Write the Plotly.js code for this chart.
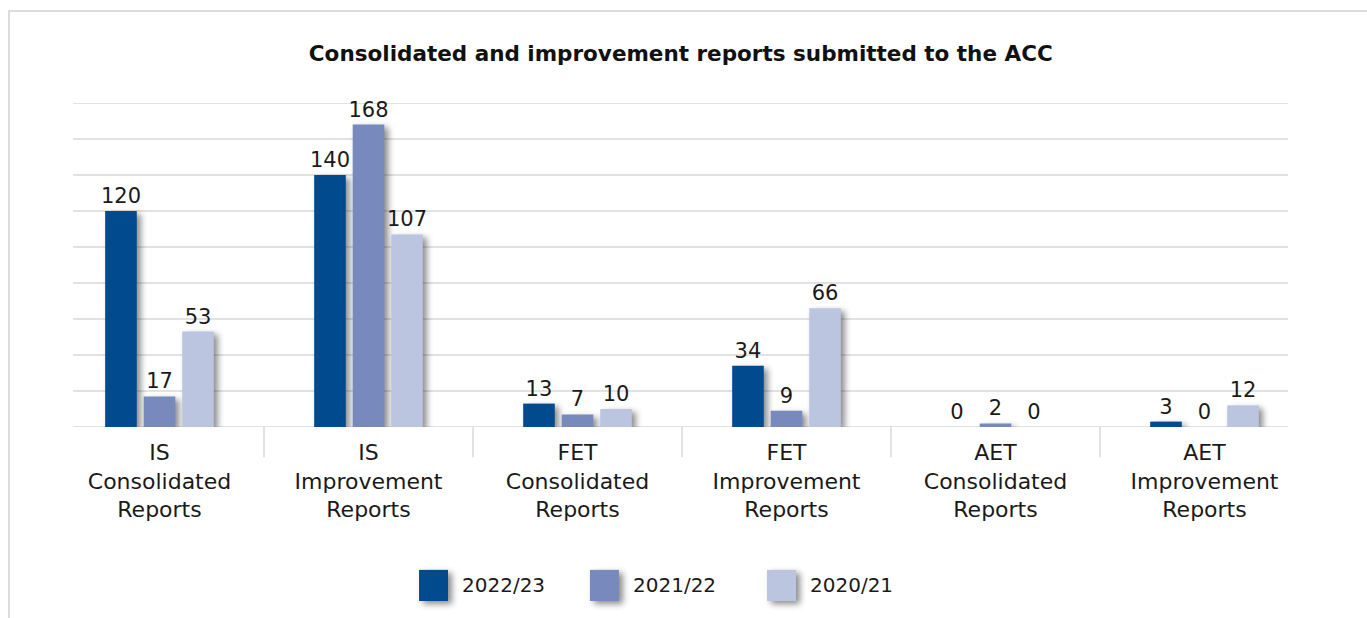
<!DOCTYPE html>
<html>
<head>
<meta charset="utf-8">
<script src="https://cdn.plot.ly/plotly-3.0.1.min.js"></script>
<style>
  html, body { margin: 0; padding: 0; background: #fff; }
  #frame { position: absolute; left: 8px; top: 10px; width: 1400px; height: 700px;
           border-left: 2px solid #dcdcdc; border-top: 2px solid #dcdcdc; pointer-events: none; }
  #chart { width: 1367px; height: 618px; }
  .barlayer .point path { filter: drop-shadow(4px 3px 3px rgba(0,0,0,0.45)); }
  path.legendbox { filter: drop-shadow(4px 3px 3px rgba(0,0,0,0.45)); }
</style>
</head>
<body>
<div id="chart"></div>
<div id="frame"></div>
<script>
const categories = [
  "IS<br>Consolidated<br>Reports",
  "IS<br>Improvement<br>Reports",
  "FET<br>Consolidated<br>Reports",
  "FET<br>Improvement<br>Reports",
  "AET<br>Consolidated<br>Reports",
  "AET<br>Improvement<br>Reports"
];
const seriesNames = ["2022/23", "2021/22", "2020/21"];
const values2022_23 = [120, 140, 13, 34, 0, 3];
const values2021_22 = [17, 168, 7, 9, 2, 0];
const values2020_21 = [53, 107, 10, 66, 0, 12];
const seriesValues = [values2022_23, values2021_22, values2020_21];
const gridValues = [0, 20, 40, 60, 80, 100, 120, 140, 160, 180];
const colors = ["#004a8d", "#7789bd", "#bcc5e0"];
const titleText = "Consolidated and improvement reports submitted to the ACC";

const FONT = "DejaVu Sans, sans-serif";

const traces = seriesNames.map((name, i) => ({
  type: "bar",
  name: name,
  x: categories,
  y: seriesValues[i],
  marker: { color: colors[i] },
  text: seriesValues[i].map(String),
  textposition: "outside",
  constraintext: "none",
  textfont: { family: FONT, size: 21, color: "#1a1a1a" },
  cliponaxis: false,
  showlegend: false,
  hoverinfo: "skip"
}));

const shapes = [];
// horizontal gridlines (slightly inset like the original)
gridValues.forEach(v => {
  shapes.push({
    type: "line", xref: "paper", yref: "y", layer: "below",
    x0: 0.0144, x1: 0.9833, y0: v, y1: v,
    line: { color: "#d9d9d9", width: 1.5 }
  });
});
// category divider ticks below the axis, at category boundaries
for (let i = 0; i < categories.length - 1; i++) {
  shapes.push({
    type: "line", xref: "x", yref: "paper", layer: "below",
    x0: i + 0.5, x1: i + 0.5, y0: 0, y1: -0.093,
    line: { color: "#d9d9d9", width: 1.5 }
  });
}
const firstLegendShape = shapes.length;

// custom legend (large swatches)
const legX = [0.2903, 0.4266, 0.5678];
const swW = 0.0231, swY0 = -0.537, swY1 = -0.441;
const annotations = [];
seriesNames.forEach((name, i) => {
  shapes.push({
    type: "rect", xref: "paper", yref: "paper",
    x0: legX[i], x1: legX[i] + swW, y0: swY0, y1: swY1,
    fillcolor: colors[i], line: { width: 0 }
  });
  annotations.push({
    xref: "paper", yref: "paper", x: legX[i] + 0.0327, y: (swY0 + swY1) / 2,
    xanchor: "left", yanchor: "middle", text: name, showarrow: false,
    font: { family: FONT, size: 20, color: "#1a1a1a" }
  });
});

const layout = {
  width: 1367, height: 618,
  margin: { l: 55, r: 58, t: 103, b: 191 },
  paper_bgcolor: "rgba(0,0,0,0)", plot_bgcolor: "rgba(0,0,0,0)",
  title: {
    text: "<b>" + titleText + "</b>",
    x: 0.498, xanchor: "center", y: 0.914, yanchor: "middle",
    font: { family: FONT, size: 21.5, color: "#111" }
  },
  barmode: "group",
  bargap: 0.447,
  bargroupgap: 0.18,
  showlegend: false,
  xaxis: {
    type: "category",
    showgrid: false, zeroline: false, showline: false,
    ticks: "", tickfont: { family: FONT, size: 22, color: "#1a1a1a" },
    ticklabelstandoff: 10
  },
  yaxis: {
    range: [0, 180],
    showticklabels: false, ticks: "",
    showgrid: false, zeroline: false, showline: false
  },
  shapes: shapes,
  annotations: annotations
};

Plotly.newPlot("chart", traces, layout, { displayModeBar: false, staticPlot: true }).then(() => {
  document.querySelectorAll(".shapelayer path[data-index]").forEach(p => {
    const idx = parseInt(p.getAttribute("data-index"), 10);
    if (idx >= firstLegendShape) p.classList.add("legendbox");
  });
});
</script>
</body>
</html>
